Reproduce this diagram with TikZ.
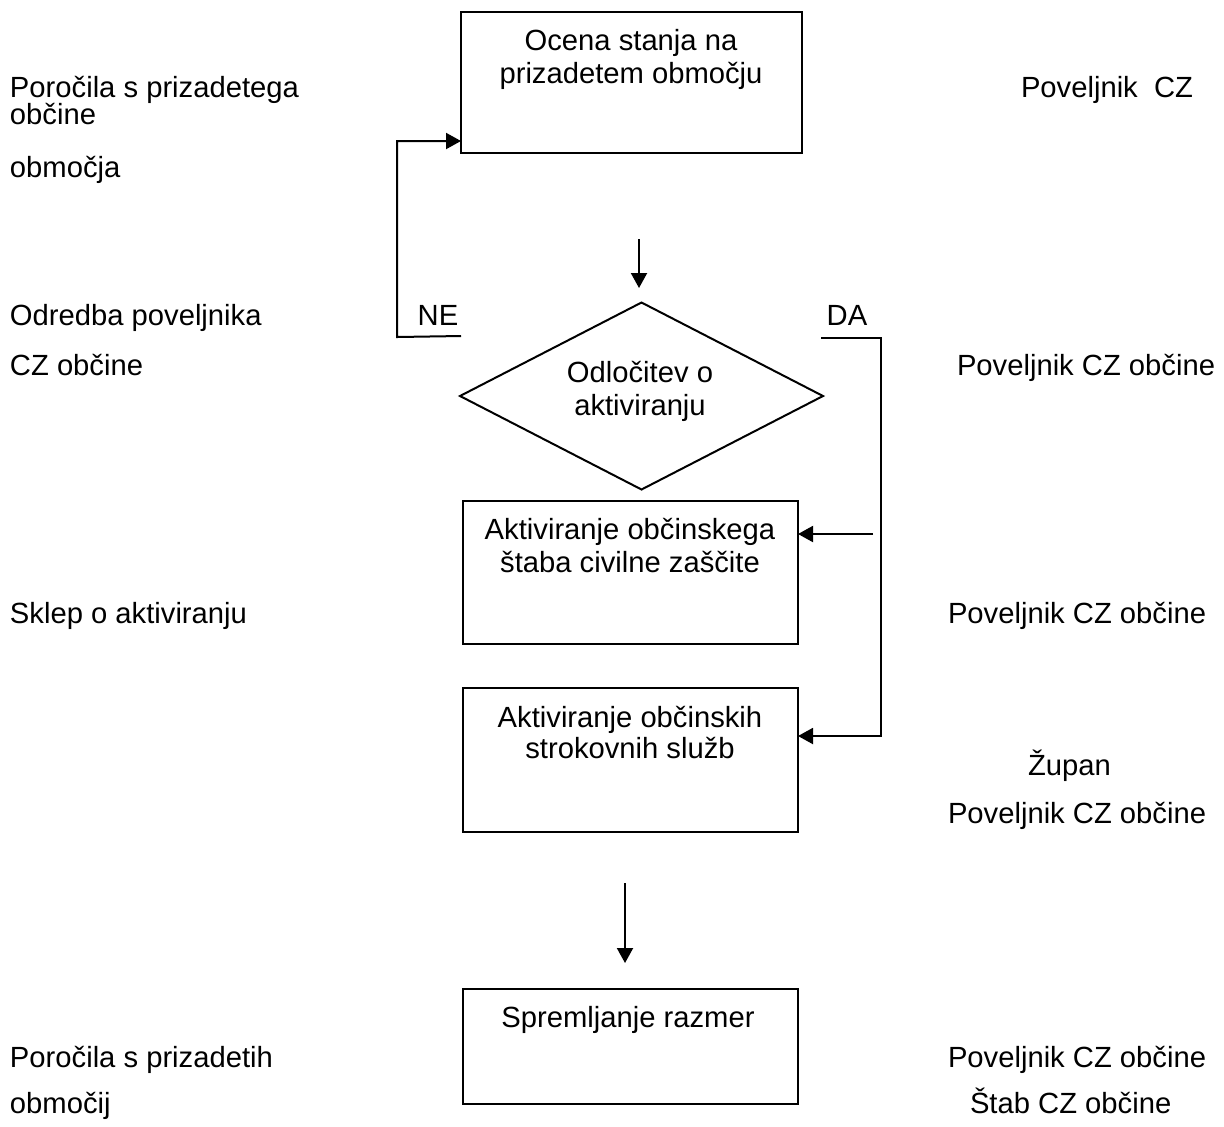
\documentclass[tikz,border=0pt]{standalone}
\usepackage{fontspec}
\setmainfont{Liberation Sans}
\usetikzlibrary{arrows.meta,shapes.geometric}
\begin{document}
\begin{tikzpicture}[x=0.5pt,y=-0.5pt,
  every node/.style={inner sep=0pt, outer sep=0pt},
  txt/.style={font=\fontsize{14.6pt}{16.5pt}\selectfont},
  lefttxt/.style={txt, anchor=base west},
  righttxt/.style={txt, anchor=base east},
  midtxt/.style={txt, anchor=base},
  stepbox/.style={draw, line width=1pt, rectangle},
  decision/.style={draw, line width=1pt, diamond},
  line/.style={line width=1pt},
  arr/.style={line, -{Triangle[length=7.5pt,width=8pt]}}]
\useasboundingbox (0,0) rectangle (1224,1126);

% process boxes and decision
\node[stepbox, minimum width=170.5pt, minimum height=70.5pt] (b1) at (631.5,82.5) {};
\node[decision, minimum width=181.5pt, minimum height=93.5pt] (d) at (641.5,396) {};
\node[stepbox, minimum width=167.5pt, minimum height=71.5pt] (b2) at (630.5,572.5) {};
\node[stepbox, minimum width=167.5pt, minimum height=72pt] (b3) at (630.5,760) {};
\node[stepbox, minimum width=167.5pt, minimum height=57.5pt] (b4) at (630.5,1046.5) {};

% texts inside the shapes
\node[midtxt] (b1a) at (631,50) {Ocena stanja na};
\node[midtxt] (b1b) at (631,83) {prizadetem območju};
\node[midtxt] (da) at (640,382) {Odločitev o};
\node[midtxt] (db) at (640,415) {aktiviranju};
\node[midtxt] (b2a) at (630,539) {Aktiviranje občinskega};
\node[midtxt] (b2b) at (630,572) {štaba civilne zaščite};
\node[midtxt] (b3a) at (630,727) {Aktiviranje občinskih};
\node[midtxt] (b3b) at (630,758) {strokovnih služb};
\node[midtxt] (b4a) at (628,1027) {Spremljanje razmer};

% branch labels
\node[midtxt] (ne) at (438,325) {NE};
\node[midtxt] (dalbl) at (847,325) {DA};

% connectors
\coordinate (a1s) at (639,239);
\coordinate (a1e) at (639,288);
\draw[arr] (a1s) -- (a1e);

\coordinate (neFoot) at (461,336);
\coordinate (neCorner) at (397,337);
\coordinate (neTop) at (397,141);
\draw[arr] (neFoot) -- (neCorner) -- (neTop) -- (b1.west |- neTop);

\coordinate (daFoot) at (821,338);
\coordinate (daCorner) at (881,338);
\coordinate (daBottom) at (881,736);
\draw[arr] (daFoot) -- (daCorner) -- (daBottom) -- (b3.east |- daBottom);

\coordinate (daBranch) at (873,534);
\draw[arr] (daBranch) -- (b2.east |- daBranch);

\coordinate (a2s) at (625,883);
\coordinate (a2e) at (625,963);
\draw[arr] (a2s) -- (a2e);

% documents (left column)
\node[lefttxt] (l1) at (10,97) {Poročila s prizadetega};
\node[lefttxt] (l2) at (10,124) {občine};
\node[lefttxt] (l3) at (10,177) {območja};
\node[lefttxt] (l4) at (10,325) {Odredba poveljnika};
\node[lefttxt] (l5) at (10,375) {CZ občine};
\node[lefttxt] (l6) at (10,623) {Sklep o aktiviranju};
\node[lefttxt] (l7) at (10,1067) {Poročila s prizadetih};
\node[lefttxt] (l8) at (10,1113) {območij};

% responsible persons (right column)
\node[righttxt] (r1) at (1193,97) {Poveljnik\ \ CZ};
\node[lefttxt] (r2) at (957,375) {Poveljnik CZ občine};
\node[lefttxt] (r3) at (948,623) {Poveljnik CZ občine};
\node[lefttxt] (r4) at (1028,775) {Župan};
\node[lefttxt] (r5) at (948,823) {Poveljnik CZ občine};
\node[lefttxt] (r6) at (948,1067) {Poveljnik CZ občine};
\node[lefttxt] (r7) at (970,1113) {Štab CZ občine};
\end{tikzpicture}
\end{document}
